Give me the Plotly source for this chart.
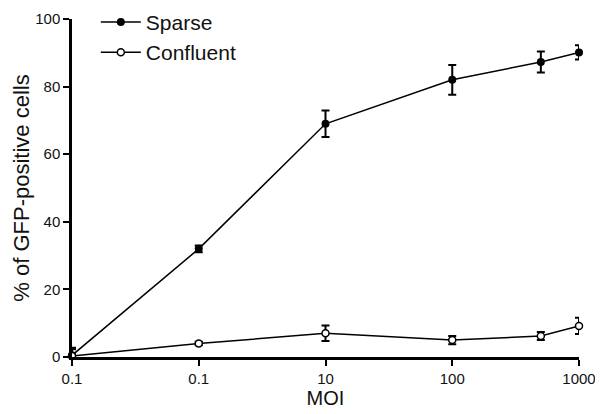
import plotly.graph_objects as go

moi = [0.1, 1, 10, 100, 500, 1000]
sparse = [0.5, 32.0, 69.0, 82.0, 87.3, 90.1]
sparse_err = [2.2, 1.0, 3.9, 4.4, 3.1, 2.1]
confluent = [0.3, 4.0, 7.0, 5.0, 6.2, 9.2]
confluent_err = [2.0, 0.5, 2.3, 1.2, 1.2, 2.4]

tick_vals = [0.1, 1, 10, 100, 1000]
tick_text = ["0.1", "0.1", "10", "100", "1000"]
y_ticks = [0, 20, 40, 60, 80, 100]

fig = go.Figure()
fig.add_trace(go.Scatter(
    x=moi, y=sparse, name="Sparse", mode="lines+markers",
    line=dict(color="black", width=1.5),
    marker=dict(symbol="circle", size=8, color="black"),
    error_y=dict(type="data", array=sparse_err, color="black", thickness=2, width=4),
    cliponaxis=False,
))
fig.add_trace(go.Scatter(
    x=moi, y=confluent, name="Confluent", mode="lines+markers",
    line=dict(color="black", width=1.5),
    marker=dict(symbol="circle", size=7, color="white", line=dict(color="black", width=1.5)),
    error_y=dict(type="data", array=confluent_err, color="black", thickness=2, width=4),
    cliponaxis=False,
))

# page body has an 8px margin, so the figure is 8px smaller and margins offset
fig.update_layout(
    width=595, height=406,
    margin=dict(l=64, r=24, t=11, b=57, autoexpand=False),
    paper_bgcolor="white", plot_bgcolor="white",
    font=dict(family="Liberation Sans, Arial, sans-serif", color="#111"),
    showlegend=True,
    legend=dict(x=0.047, y=1.051, xanchor="left", yanchor="top",
                font=dict(size=21), bgcolor="rgba(0,0,0,0)",
                itemwidth=40, tracegroupgap=0),
    xaxis=dict(
        type="log", range=[-1, 3], automargin=False,
        tickvals=tick_vals, ticktext=tick_text,
        showline=True, linecolor="black", linewidth=2.5,
        ticks="outside", ticklen=6, tickwidth=2, tickcolor="black",
        showgrid=False, zeroline=False,
        tickfont=dict(size=15),
        title=dict(text="MOI", font=dict(size=20), standoff=1),
    ),
    yaxis=dict(
        range=[0, 100], tickvals=y_ticks, automargin=False,
        showline=True, linecolor="black", linewidth=2.5,
        ticks="outside", ticklen=6, tickwidth=2, tickcolor="black",
        showgrid=False, zeroline=False,
        tickfont=dict(size=15),
        title=dict(text="% of GFP-positive cells", font=dict(size=22), standoff=0),
    ),
)

fig.write_html("out.html")
